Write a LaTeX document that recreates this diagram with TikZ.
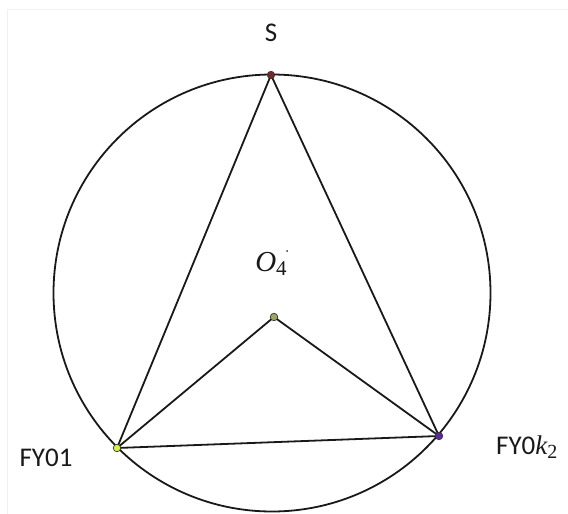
\documentclass[tikz,border=0pt]{standalone}
\usepackage{fontspec}
\setmainfont{Carlito}
\newfontfamily\serifit{Liberation Serif}
\begin{document}
\begin{tikzpicture}[x=1pt,y=-1pt,
  ln/.style={line width=1.8pt,black!90},
  pt/.style={circle,draw=black!80,line width=0.7pt,inner sep=0pt,minimum size=7.5pt},
  lab/.style={font=\fontsize{27}{32}\selectfont,text=black!90,inner sep=0pt}]
\useasboundingbox (0,0) rectangle (568,514);
\draw[black!6,line width=0.6pt] (7,514) -- (7,9) -- (568,9);
\draw[ln] (272,293) circle (218.5);
\coordinate (S) at (271,75);
\coordinate (A) at (117,448);
\coordinate (B) at (439,436);
\coordinate (O) at (274,317);
\draw[ln] (S) -- (A) -- (B) -- cycle;
\draw[ln] (A) -- (O) -- (B);
\node[pt,fill={rgb,255:red,120;green,40;blue,40}] (s) at (S) {};
\node[pt,fill={rgb,255:red,218;green,240;blue,70}] (a) at (A) {};
\node[pt,fill={rgb,255:red,90;green,40;blue,160}] (b) at (B) {};
\node[pt,fill={rgb,255:red,160;green,165;blue,95}] (o) at (O) {};
\node[lab] (ls) at (271,33) {S};
\node[lab] (la) at (46,458) {FY01};
\node[lab,anchor=west] (lb) at (496,447) {FY0{\serifit\itshape k}\raisebox{-0.3ex}{\serifit\fontsize{20}{24}\selectfont 2}};
\node[lab] (lo) at (271,264) {{\serifit\itshape\fontsize{29}{34}\selectfont O}\raisebox{-0.35ex}{\serifit\fontsize{21}{24}\selectfont 4}};
\fill[black!80] (287,251) circle (1);
\end{tikzpicture}
\end{document}
